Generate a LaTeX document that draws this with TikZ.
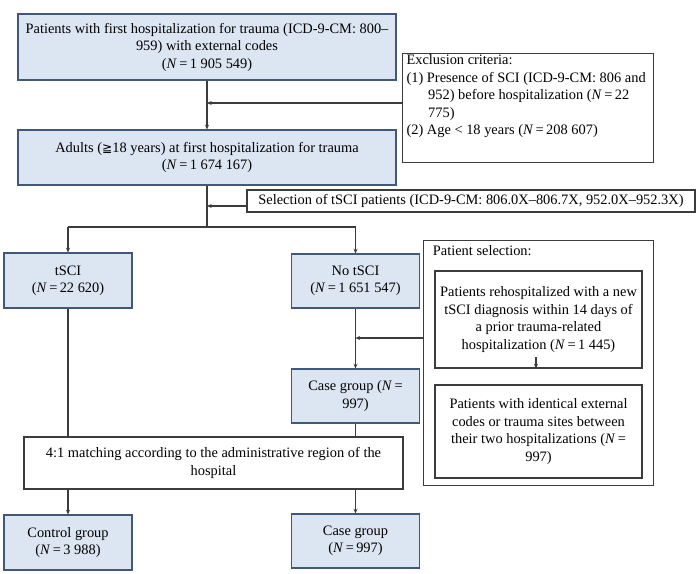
\documentclass[tikz,border=0pt]{standalone}
\usepackage{fontspec}
\setmainfont{Liberation Serif}
\newfontfamily\symfont[Scale=0.85]{DejaVu Sans}
\usepackage{xcolor}
\usetikzlibrary{arrows.meta}

\definecolor{boxfill}{RGB}{220,230,242}
\definecolor{boxline}{RGB}{65,88,118}
\definecolor{linegray}{RGB}{60,60,60}

\begin{document}
\begin{tikzpicture}[
    x=0.75pt, y=-0.75pt,
    font=\fontsize{10.8}{13.1}\selectfont,
    box/.style={rectangle, draw=boxline, fill=boxfill, line width=0.85pt, align=center, inner sep=1pt},
    plain/.style={rectangle, draw=linegray, line width=0.85pt, align=center, inner sep=1pt},
    line/.style={draw=linegray, line width=0.85pt},
    arrow/.style={line, -{Stealth[length=3.5pt,width=3pt]}}
]
    \useasboundingbox (0,0) rectangle (700,574);

    \node[box, minimum width=283.5pt, minimum height=49.5pt] (trauma) at (207,47)
        {Patients with first hospitalization for trauma (ICD-9-CM: 800--\\959) with external codes\\(\textit{N}\,=\,1 905 549)};
    \node[plain, anchor=north west, inner xsep=3pt, inner ysep=1pt, align=left] (exclusion) at (402,53)
        {\parbox[t][79.75pt][t]{182.25pt}{\raggedright Exclusion criteria:\\
        (1) Presence of SCI (ICD-9-CM: 806 and\\
        \hspace*{1.5em}952) before hospitalization (\textit{N}\,=\,22\\
        \hspace*{1.5em}775)\\
        (2) Age < 18 years (\textit{N}\,=\,208 607)}};
    \node[box, minimum width=283.5pt, minimum height=41.25pt] (adults) at (207,157.5)
        {Adults ({\symfont ≧}18 years) at first hospitalization for trauma\\(\textit{N}\,=\,1 674 167)};
    \node[plain, minimum width=336pt, minimum height=16.5pt] (selection) at (471,201)
        {Selection of tSCI patients (ICD-9-CM: 806.0X--806.7X, 952.0X--952.3X)};

    \node[box, minimum width=96pt, minimum height=41.25pt] (tsci) at (68,280.5)
        {tSCI\\(\textit{N}\,=\,22 620)};
    \node[box, minimum width=96pt, minimum height=40.5pt] (notsci) at (355.5,281)
        {No tSCI\\(\textit{N}\,=\,1 651 547)};

    % patient selection panel
    \node[plain, anchor=north west, inner xsep=7pt, inner ysep=4pt, align=left] (patsel) at (423,240)
        {\parbox[t][175.75pt][t]{158.5pt}{Patient selection:}};
    \node[plain, fill=white, minimum width=155.25pt, minimum height=72.75pt] (rehosp) at (538.5,319.5)
        {Patients rehospitalized with a new\\tSCI diagnosis within 14 days of\\a prior trauma-related\\hospitalization (\textit{N}\,=\,1 445)};
    \node[plain, fill=white, minimum width=155.25pt, minimum height=69.75pt] (identical) at (538.5,431.5)
        {Patients with identical external\\codes or trauma sites between\\their two hospitalizations (\textit{N}\,=\\997)};

    \node[box, minimum width=96pt, minimum height=40.5pt] (casesel) at (355.5,396)
        {Case group (\textit{N}\,=\\997)};
    \node[plain, minimum width=284.25pt, minimum height=39pt] (matching) at (213.5,463)
        {4:1 matching according to the administrative region of the\\hospital};

    \node[box, minimum width=96pt, minimum height=41.25pt] (control) at (68,542.5)
        {Control group\\(\textit{N}\,=\,3 988)};
    \node[box, minimum width=96pt, minimum height=40.5pt] (casegroup) at (355.5,541)
        {Case group\\(\textit{N}\,=\,997)};

    % junctions
    \coordinate (excljoin) at (207,103);
    \coordinate (seljoin) at (207,206);
    \coordinate (split) at (207,227);
    \coordinate (patjoin) at (355.5,338);
    \coordinate (rehosptick) at (536,357);

    \draw[arrow] (trauma) -- (adults);
    \draw[arrow] (exclusion.west |- excljoin) -- (excljoin);
    \draw[line] (adults) -- (split);
    \draw[arrow] (selection.west |- seljoin) -- (seljoin);
    \draw[line] (tsci.north |- split) -- (notsci.north |- split);
    \draw[arrow] (tsci.north |- split) -- (tsci);
    \draw[arrow] (notsci.north |- split) -- (notsci);

    \draw[line] (tsci) -- (tsci.south |- matching.north);
    \draw[arrow] (notsci) -- (casesel);
    \draw[arrow] (patsel.west |- patjoin) -- (patjoin);
    \draw[arrow] (rehosptick) -- (rehosp.south -| rehosptick);
    \draw[line] (casesel) -- (casesel.south |- matching.north);

    \draw[arrow] (matching.south -| control) -- (control);
    \draw[arrow] (matching.south -| casegroup) -- (casegroup);
\end{tikzpicture}
\end{document}
